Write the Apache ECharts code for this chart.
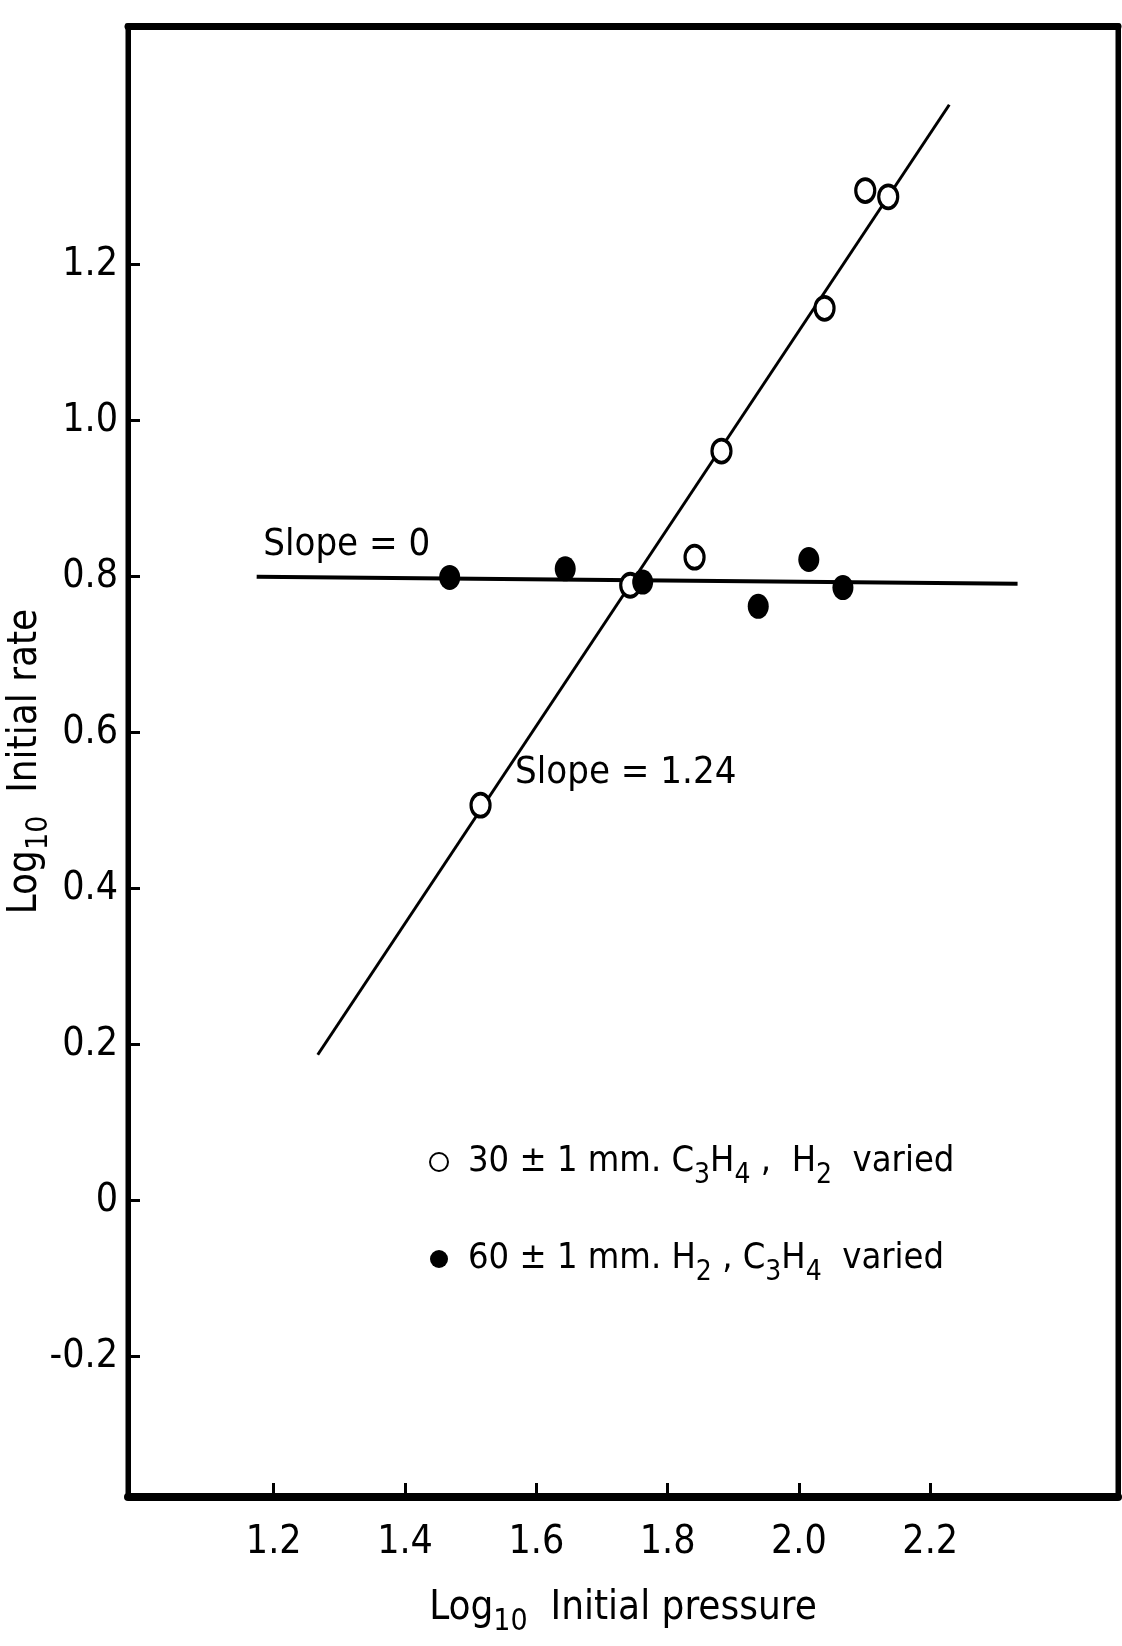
<!DOCTYPE html>
<html><head><meta charset="utf-8">
<script src="https://cdn.jsdelivr.net/npm/echarts@6/dist/echarts.min.js"></script>
<style>html,body{margin:0;padding:0;background:#fff}#c{width:1122px;height:1646px}</style>
</head><body><div id="c"></div>
<script>
const FONT = '"Liberation Sans Narrow","DejaVu Sans Condensed","Liberation Sans",sans-serif';

// open circles: 30 ± 1 mm. C3H4, H2 varied
const openX = [1.515, 1.743, 1.841, 1.882, 2.039, 2.101, 2.136];
const openY = [0.507, 0.789, 0.825, 0.961, 1.144, 1.295, 1.287];
// filled circles: 60 ± 1 mm. H2, C3H4 varied
const filledX = [1.468, 1.644, 1.762, 1.938, 2.015, 2.067];
const filledY = [0.799, 0.810, 0.793, 0.762, 0.822, 0.786];
// fitted lines
const fit0X = [1.174, 2.333];
const fit0Y = [0.800, 0.791];
const fit124X = [1.267, 2.229];
const fit124Y = [0.187, 1.405];
// ticks
const xTicks = [1.2, 1.4, 1.6, 1.8, 2.0, 2.2];
const xTickLabels = ['1.2', '1.4', '1.6', '1.8', '2.0', '2.2'];
const yTicks = [-0.2, 0, 0.2, 0.4, 0.6, 0.8, 1.0, 1.2];
const yTickLabels = ['-0.2', '0', '0.2', '0.4', '0.6', '0.8', '1.0', '1.2'];
// annotations
const noteText = ['Slope = 0', 'Slope = 1.24'];
const noteX = [1.312, 1.737];
const noteY = [0.840, 0.548];

const seriesNames = ['30 ± 1 mm. C3H4 , H2 varied', '60 ± 1 mm. H2 , C3H4 varied'];
const legendRich = {
  [seriesNames[0]]: '{t|30 ± 1 mm. C}{s|3}{t|H}{s|4}{t| ,  H}{s|2}{t|  varied}',
  [seriesNames[1]]: '{t|60 ± 1 mm. H}{s|2}{t| , C}{s|3}{t|H}{s|4}{t|  varied}'
};

const zip = (a, b) => a.map((v, i) => [v, b[i]]);
const labelFor = (ticks, labels) => v => {
  const i = ticks.findIndex(t => Math.abs(t - v) < 1e-6);
  return i >= 0 ? labels[i] : '';
};
const richBase = {
  t: { fontFamily: FONT, fontSize: 40, color: '#000', lineHeight: 56, verticalAlign: 'middle' },
  s: { fontFamily: FONT, fontSize: 30, color: '#000', lineHeight: 20, verticalAlign: 'bottom' }
};

const chart = echarts.init(document.getElementById('c'), null, { renderer: 'canvas' });
chart.setOption({
  backgroundColor: '#fff',
  animation: false,
  grid: { left: 128, right: 4, top: 26, bottom: 149, show: true, borderColor: '#000', borderWidth: 5,
    backgroundColor: 'transparent', containLabel: false, outerBoundsMode: 'none' },
  legend: {
    orient: 'vertical', left: 424, top: 1139, itemGap: 51, itemWidth: 48, itemHeight: 18,
    data: [{ name: seriesNames[0], icon: 'circle' }, { name: seriesNames[1], icon: 'circle' }],
    formatter: n => legendRich[n],
    textStyle: { fontFamily: FONT, fontSize: 36, color: '#000', rich: {
      t: { fontFamily: FONT, fontSize: 36, color: '#000', lineHeight: 56, verticalAlign: 'middle' },
      s: { fontFamily: FONT, fontSize: 28, color: '#000', lineHeight: 20, verticalAlign: 'bottom' }
    } }
  },
  xAxis: [{
    type: 'value', min: 0.978, max: 2.486, position: 'bottom',
    axisLine: { show: true, onZero: false, lineStyle: { color: '#000', width: 8 } },
    axisTick: { show: true, inside: true, length: 14, customValues: xTicks, lineStyle: { color: '#000', width: 3 } },
    axisLabel: { customValues: xTicks, formatter: labelFor(xTicks, xTickLabels), margin: 26, fontFamily: FONT, fontSize: 39, color: '#000' },
    splitLine: { show: false },
    name: '{t|Log}{s|10}{t|  Initial pressure}', nameLocation: 'middle', nameGap: 84,
    nameTextStyle: { rich: richBase }
  }, {
    type: 'value', min: 0.978, max: 2.486, position: 'top',
    axisLine: { show: true, onZero: false, lineStyle: { color: '#000', width: 7 } },
    axisTick: { show: false }, axisLabel: { show: false }, splitLine: { show: false }
  }],
  yAxis: [{
    type: 'value', min: -0.380, max: 1.506, position: 'left',
    axisLine: { show: true, onZero: false, lineStyle: { color: '#000', width: 5 } },
    axisTick: { show: true, inside: true, length: 12, customValues: yTicks, lineStyle: { color: '#000', width: 3 } },
    axisLabel: { customValues: yTicks, formatter: labelFor(yTicks, yTickLabels), margin: 10, fontFamily: FONT, fontSize: 39, color: '#000' },
    splitLine: { show: false },
    name: '{t|Log}{s|10}{t|  Initial rate}', nameLocation: 'middle', nameGap: 74, nameRotate: 90, nameMoveOverlap: false,
    nameTextStyle: { rich: richBase }
  }, {
    type: 'value', min: -0.380, max: 1.506, position: 'right',
    axisLine: { show: true, onZero: false, lineStyle: { color: '#000', width: 5 } },
    axisTick: { show: false }, axisLabel: { show: false }, splitLine: { show: false }
  }],
  series: [
    { type: 'line', data: zip(fit0X, fit0Y), symbol: 'none', lineStyle: { color: '#000', width: 4 }, silent: true, z: 2 },
    { type: 'line', data: zip(fit124X, fit124Y), symbol: 'none', lineStyle: { color: '#000', width: 3 }, silent: true, z: 2 },
    { name: seriesNames[0], type: 'scatter', data: zip(openX, openY), symbol: 'circle', symbolSize: [19, 23],
      itemStyle: { color: '#fff', borderColor: '#000', borderWidth: 3.5, opacity: 1 }, z: 4 },
    { name: seriesNames[1], type: 'scatter', data: zip(filledX, filledY), symbol: 'circle', symbolSize: [21, 25],
      itemStyle: { color: '#000', borderColor: '#000', borderWidth: 0, opacity: 1 }, z: 5 },
    { type: 'scatter', data: zip(noteX, noteY), symbolSize: 1, itemStyle: { color: '#fff', opacity: 0 }, silent: true,
      label: { show: true, position: [0, 0], align: 'center', verticalAlign: 'middle', formatter: p => noteText[p.dataIndex],
        fontFamily: FONT, fontSize: 38, color: '#000', opacity: 1, textBorderWidth: 0 }, z: 6 }
  ]
});
</script></body></html>
